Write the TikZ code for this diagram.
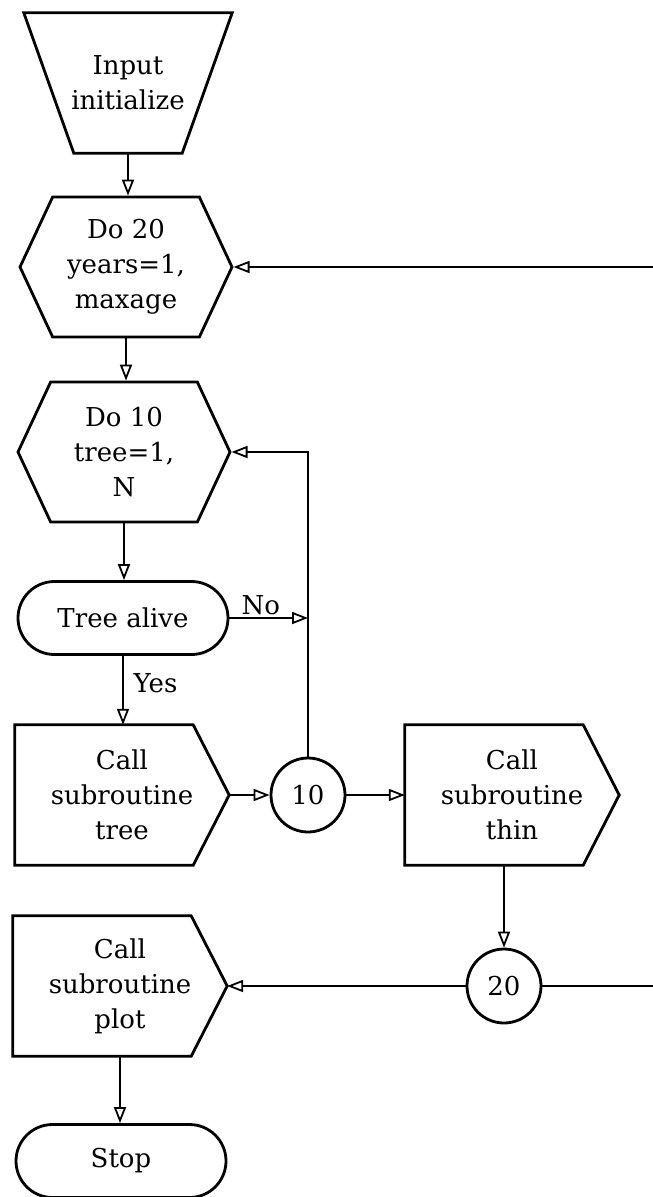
\documentclass[tikz,border=0pt]{standalone}
\usepackage{fontspec}
\setmainfont{DejaVu Serif}
\usetikzlibrary{shapes.symbols,shapes.misc,arrows.meta}
\tikzset{
  outline/.style={line width=2.8pt, line join=miter},
  box/.style={inner sep=3pt, align=center,
    font=\fontsize{26}{35}\selectfont},
  iobox/.style={box, minimum width=208pt, minimum height=140pt},
  loopbox/.style={box, draw, outline, signal, signal to=west and east,
    signal pointer angle=130, minimum width=212pt, minimum height=140pt},
  callbox/.style={box, minimum width=214pt, minimum height=140pt},
  termbox/.style={box, draw, outline, rounded rectangle,
    minimum width=216pt, minimum height=73pt},
  connector/.style={box, draw, outline, circle, minimum size=74pt, inner sep=0pt},
  flowline/.style={line width=1.4pt,
    -{Triangle[open, length=16pt, width=12pt, line width=1.8pt]}},
  flowlabel/.style={font=\fontsize{26}{35}\selectfont, inner sep=2pt}
}
% outlines drawn round plain nodes
\newcommand{\ioshape}[1]{%
  \draw[outline] (#1.north west) -- (#1.north east)
    -- ([xshift=-50pt]#1.south east) -- ([xshift=50pt]#1.south west) -- cycle;}
\newcommand{\callshape}[1]{%
  \draw[outline] (#1.north west) -- ([xshift=-36pt]#1.north east) -- (#1.east)
    -- ([xshift=-36pt]#1.south east) -- (#1.south west) -- cycle;}
\begin{document}
\begin{tikzpicture}[x=1pt, y=-1pt]
  \useasboundingbox[fill=white] (0,0) rectangle (653,1197);
  % boxes
  \node[iobox] (input) at (128,83) {Input\\initialize};
  \ioshape{input}
  \node[loopbox] (do20) at (126,267) {Do 20\\years=1,\\maxage};
  \node[loopbox] (do10) at (124,452) {Do 10\\tree=1,\\N};
  \node[termbox] (alive) at (123,618) {Tree alive};
  \node[callbox] (calltree) at (122,795) {Call\\subroutine\\tree};
  \callshape{calltree}
  \node[connector] (c10) at (308,795) {10};
  \node[callbox] (callthin) at (512,795) {Call\\subroutine\\thin};
  \callshape{callthin}
  \node[connector] (c20) at (504,986) {20};
  \node[callbox] (callplot) at (120,986) {Call\\subroutine\\plot};
  \callshape{callplot}
  \node[termbox] (stop) at (121,1161) {Stop};
  \coordinate (back20) at (653,267);
  \coordinate (end20) at (653,986);
  % flow
  \draw[flowline] (input.south) -- (input.south |- do20.north);
  \draw[flowline] (do20.south) -- (do20.south |- do10.north);
  \draw[flowline] (do10.south) -- (do10.south |- alive.north);
  \draw[flowline] (alive.south) -- node[flowlabel, right=8pt, pos=0.4]{Yes}
    (alive.south |- calltree.north);
  \draw[flowline] (alive.east) -- node[flowlabel, above, pos=0.4]{No}
    (alive.east -| c10.north);
  \draw[flowline] (c10.north) |- (do10.east);
  \draw[flowline] (calltree.east) -- (c10.west);
  \draw[flowline] (c10.east) -- (callthin.west);
  \draw[flowline] (c20.north |- callthin.south) -- (c20.north);
  \draw[flowline] (c20.west) -- (callplot.east);
  \draw[flowline] (callplot.south) -- (callplot.south |- stop.north);
  % outer loop
  \draw[flowline] (back20) -- (do20.east);
  \draw[line width=1.4pt] (c20.east) -- (end20);
\end{tikzpicture}
\end{document}
